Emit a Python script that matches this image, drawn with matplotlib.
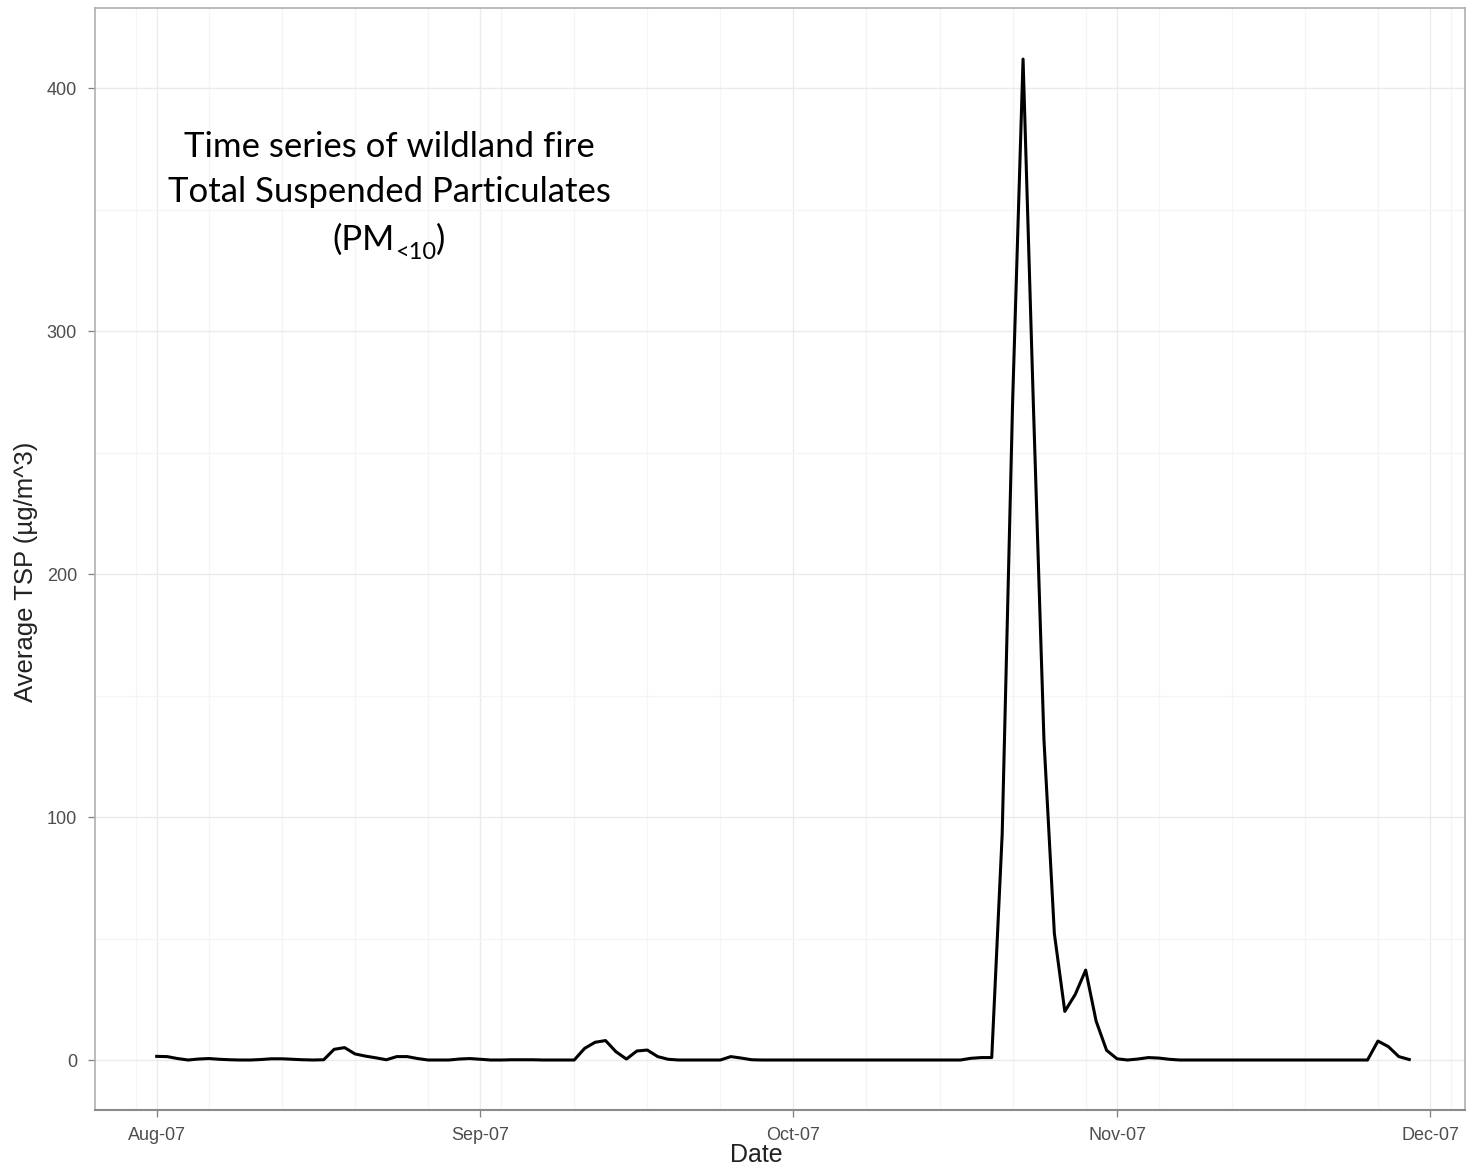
import matplotlib
matplotlib.use("Agg")
import matplotlib.pyplot as plt
import matplotlib.dates as mdates
import matplotlib.ticker as mticker
import pandas as pd

# daily average TSP, starting 2007-08-01
start_date = "2007-08-01"
tsp = [
    1.5, 1.4, 0.6, 0.0, 0.4, 0.6, 0.3, 0.1, 0.0, 0.0,
    0.2, 0.5, 0.5, 0.3, 0.1, 0.0, 0.1, 4.4, 5.1, 2.5,
    1.6, 0.9, 0.1, 1.4, 1.4, 0.6, 0.0, 0.0, 0.0, 0.4,
    0.6, 0.3, 0.0, 0.0, 0.1, 0.1, 0.1, 0.0, 0.0, 0.0,
    0.0, 4.8, 7.3, 8.0, 3.4, 0.4, 3.7, 4.1, 1.4, 0.3,
    0.0, 0.0, 0.0, 0.0, 0.0, 1.4, 0.8, 0.1, 0.0, 0.0,
    0.0, 0.0, 0.0, 0.0, 0.0, 0.0, 0.0, 0.0, 0.0, 0.0,
    0.0, 0.0, 0.0, 0.0, 0.0, 0.0, 0.0, 0.0, 0.7, 1.0,
    1.0, 93.0, 271.0, 412.0, 268.0, 132.0, 52.0, 20.0, 27.0, 37.0,
    16.0, 4.0, 0.5, 0.0, 0.4, 1.0, 0.8, 0.3, 0.0, 0.0,
    0.0, 0.0, 0.0, 0.0, 0.0, 0.0, 0.0, 0.0, 0.0, 0.0,
    0.0, 0.0, 0.0, 0.0, 0.0, 0.0, 0.0, 7.8, 5.5, 1.4,
    0.2,
]
month_ticks = ["2007-08-01", "2007-09-01", "2007-10-01", "2007-11-01", "2007-12-01"]
y_ticks = [0, 100, 200, 300, 400]

dates = pd.date_range(start_date, periods=len(tsp), freq="D")

fig = plt.figure(figsize=(14.72, 11.67), dpi=100)
ax = fig.add_axes([0.0645, 0.0488, 0.9307, 0.9443])

# monthly major grid, weekly (Monday) minor grid
ax.xaxis.set_major_locator(mticker.FixedLocator(mdates.date2num(pd.to_datetime(month_ticks))))
ax.xaxis.set_major_formatter(mdates.DateFormatter("%b-%y"))
ax.xaxis.set_minor_locator(mdates.WeekdayLocator(byweekday=mdates.MO))
ax.set_yticks(y_ticks)
ax.yaxis.set_minor_locator(mticker.MultipleLocator(50))
ax.grid(which="major", color="#ebebeb", linewidth=1.0)
ax.grid(which="minor", color="#f5f5f5", linewidth=0.9)
ax.set_axisbelow(True)

ax.plot(dates, tsp, color="black", linewidth=2.2, solid_joinstyle="round")

ax.set_xlim(pd.Timestamp("2007-07-26 02:00"), pd.Timestamp("2007-12-04 08:00"))
ax.set_ylim(-20.6, 433)

for side in ["top", "right", "left"]:
    ax.spines[side].set_color("#b0b0b0")
    ax.spines[side].set_linewidth(1.2)
ax.spines["bottom"].set_color("#8a8a8a")
ax.spines["bottom"].set_linewidth(1.5)

ax.tick_params(which="major", length=5, width=0.9, color="#7f7f7f",
               labelsize=13, labelcolor="#4d4d4d")
ax.tick_params(axis="x", pad=7)
ax.tick_params(axis="y", pad=8)
ax.tick_params(which="minor", length=0)
for lab in ax.get_xticklabels() + ax.get_yticklabels():
    lab.set_family("Liberation Sans")

fig.text(0.0175, 0.51, "Average TSP (µg/m^3)", rotation=90, ha="center", va="center",
         fontsize=18.5, family="Liberation Sans", color="#222222")
fig.text(0.514, 0.0105, "Date", ha="center", va="center",
         fontsize=18, family="Liberation Sans", color="#222222")

# annotation block
note_kw = dict(family="Lato", fontsize=25, color="black")
fig.text(389 / 1472, 1 - 147 / 1167, "Time series of wildland fire",
         ha="center", va="center", **note_kw)
fig.text(389 / 1472, 1 - 192 / 1167, "Total Suspended Particulates",
         ha="center", va="center", **note_kw)

# "(PM<10)" with a subscript, assembled from pieces
renderer = fig.canvas.get_renderer()
base_y = 1 - 250 / 1167
parts = [("(PM", 25, 0.0), ("<10", 17, -9.0), (")", 25, 0.0)]
pieces = []
for txt, fs, dy in parts:
    t = fig.text(0, base_y + dy / 1167, txt, ha="left", va="baseline",
                 family="Lato", fontsize=fs)
    pieces.append(t)
widths = [p.get_window_extent(renderer).width for p in pieces]
x = 389 - sum(widths) / 2
for p, w in zip(pieces, widths):
    p.set_x(x / 1472)
    x += w

fig.savefig("out.png", dpi=100)
